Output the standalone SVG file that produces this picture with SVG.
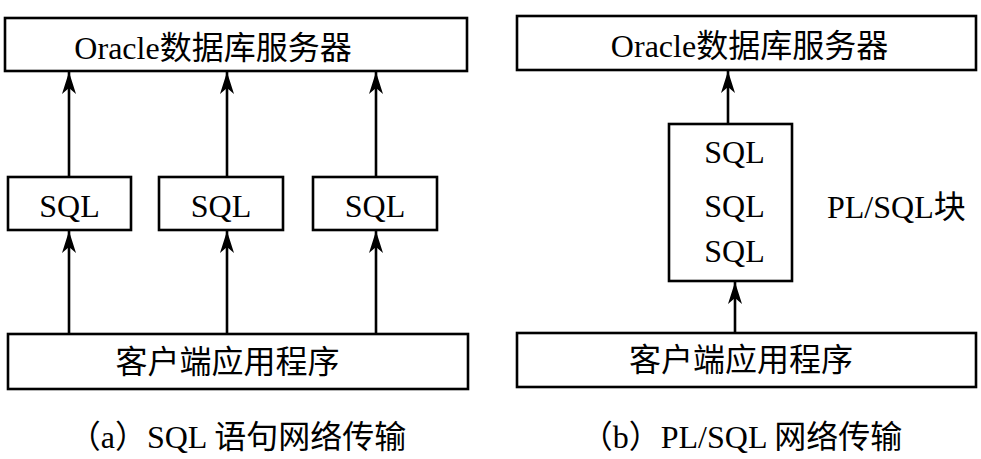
<svg xmlns="http://www.w3.org/2000/svg" width="981" height="459" viewBox="0 0 981 459">
<defs>
<style>
.box{fill:#fff;stroke:#000;stroke-width:2.6}
.t{font-family:"Liberation Serif","Noto Sans CJK SC",serif;font-size:32px;fill:#000}
.m{text-anchor:middle}
.c{stroke:#000;stroke-width:2.6;fill:none;marker-end:url(#ah)}
</style>
<marker id="ah" markerUnits="userSpaceOnUse" orient="auto" refX="0" refY="0" markerWidth="30" markerHeight="20" overflow="visible">
<path d="M0,0 L-22,-7 L-16,0 L-22,7 Z" fill="#000"/>
</marker>
</defs>
<rect width="981" height="459" fill="#fff"/>
<g id="connectors">
<line class="c" x1="69" y1="177" x2="69" y2="72"/>
<line class="c" x1="227" y1="177" x2="227" y2="72"/>
<line class="c" x1="376" y1="177" x2="376" y2="72"/>
<line class="c" x1="69" y1="334" x2="69" y2="231"/>
<line class="c" x1="227" y1="334" x2="227" y2="231"/>
<line class="c" x1="376" y1="334" x2="376" y2="231"/>
<line class="c" x1="728" y1="124" x2="728" y2="71"/>
<line class="c" x1="735" y1="333" x2="735" y2="282"/>
</g>
<g id="a-server">
<rect class="box" x="5" y="18" width="462" height="53"/>
<text class="t m" x="213" y="59" font-size="33">Oracle数据库服务器</text>
</g>
<g id="a-sql1">
<rect class="box" x="8" y="177" width="123" height="53"/>
<text class="t m" x="69.5" y="217">SQL</text>
</g>
<g id="a-sql2">
<rect class="box" x="159" y="177" width="124" height="53"/>
<text class="t m" x="221" y="217">SQL</text>
</g>
<g id="a-sql3">
<rect class="box" x="313" y="177" width="124" height="53"/>
<text class="t m" x="375" y="217">SQL</text>
</g>
<g id="a-client">
<rect class="box" x="8" y="334" width="460" height="55"/>
<text class="t m" x="227.5" y="373" font-size="33">客户端应用程序</text>
</g>
<text class="t m" x="237.5" y="448">（a）SQL 语句网络传输</text>
<g id="b-server">
<rect class="box" x="517" y="16" width="459" height="54"/>
<text class="t m" x="749.5" y="57" font-size="33">Oracle数据库服务器</text>
</g>
<g id="b-plsql">
<rect class="box" x="669" y="124" width="123" height="157"/>
<text class="t m" x="734.5" y="163">SQL</text>
<text class="t m" x="734.5" y="217">SQL</text>
<text class="t m" x="734.5" y="262">SQL</text>
</g>
<text class="t" x="827" y="218">PL/SQL块</text>
<g id="b-client">
<rect class="box" x="517" y="333" width="459" height="54"/>
<text class="t m" x="741" y="371" font-size="33">客户端应用程序</text>
</g>
<text class="t m" x="741.5" y="448">（b）PL/SQL 网络传输</text>
</svg>
